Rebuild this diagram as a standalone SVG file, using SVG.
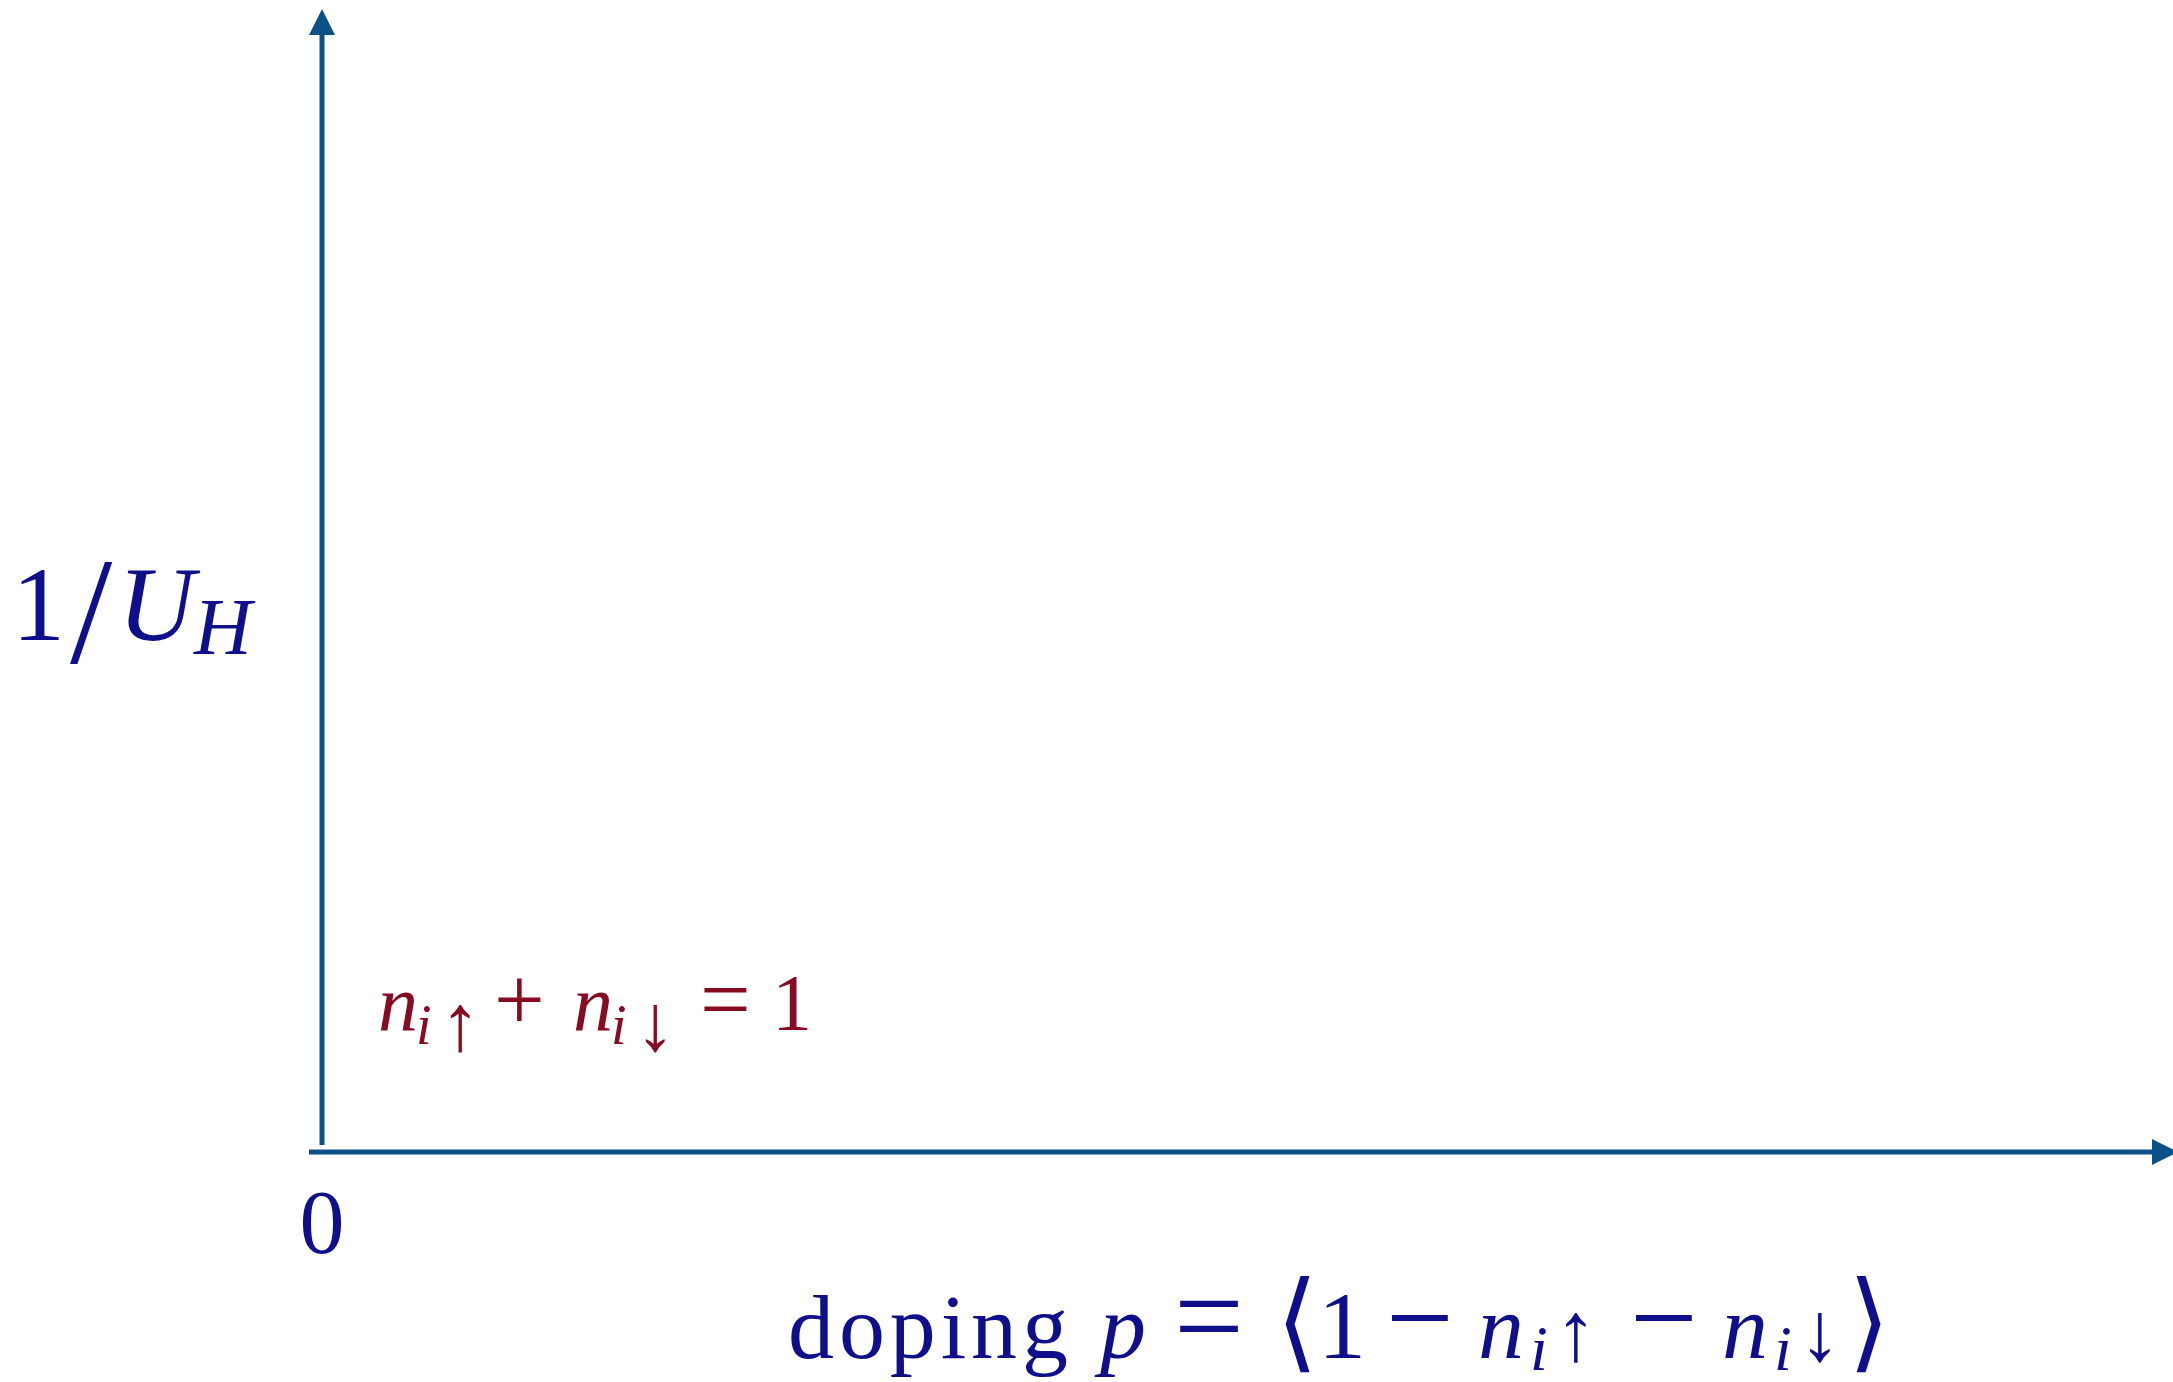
<svg xmlns="http://www.w3.org/2000/svg" width="2173" height="1382" viewBox="0 0 2173 1382">
<style>
.axis{stroke:#0b5086;stroke-width:5;fill:none}
.t{font-family:"Liberation Serif","DejaVu Serif",serif;fill:#0f0f8c}
.r{font-family:"Liberation Serif","DejaVu Serif",serif;fill:#870b21}
.it{font-style:italic}
</style>
<defs>
<marker id="ah" markerUnits="userSpaceOnUse" markerWidth="26" markerHeight="26" refX="0" refY="13" orient="auto" viewBox="0 0 26 26">
<path d="M0,0 L26,13 L0,26 z" fill="#0b5086"/>
</marker>
</defs>
<rect width="2173" height="1382" fill="#fff"/>
<g id="axes">
<line class="axis" x1="322" y1="1145" x2="322" y2="35" marker-end="url(#ah)"/>
<line class="axis" x1="309" y1="1152" x2="2152" y2="1152" marker-end="url(#ah)"/>
</g>
<g id="ylabel">
<text class="t" font-size="106" y="640"><tspan x="12">1</tspan><tspan x="70" y="663" font-size="152">/</tspan><tspan x="118" y="640" class="it">U</tspan><tspan x="194" y="654" font-size="80" class="it">H</tspan></text>
</g>
<g id="origin">
<text class="t" font-size="90" x="322" y="1253" text-anchor="middle">0</text>
</g>
<g id="constraint">
<text class="r" font-size="80" y="1030"><tspan x="378" class="it">n</tspan><tspan x="416" y="1044" font-size="56" class="it">i</tspan><tspan x="440" y="1050" font-size="80">↑</tspan><tspan x="494" y="1030" font-size="90">+</tspan><tspan x="573" class="it">n</tspan><tspan x="611" y="1044" font-size="56" class="it">i</tspan><tspan x="635" y="1050" font-size="80">↓</tspan><tspan x="700" y="1030" font-size="90">=</tspan><tspan x="772">1</tspan></text>
</g>
<g id="xlabel">
<text class="t" font-size="92" y="1358"><tspan x="788" textLength="280">doping</tspan><tspan x="1100" class="it">p</tspan><tspan x="1174" font-size="124">=</tspan><tspan x="1276" font-size="108">⟨</tspan><tspan x="1318" font-size="96">1</tspan><tspan x="1386" font-size="120">−</tspan><tspan x="1478" class="it">n</tspan><tspan x="1530" y="1370" font-size="64" class="it">i</tspan><tspan x="1555" y="1360" font-size="84">↑</tspan><tspan x="1630" y="1358" font-size="120">−</tspan><tspan x="1722" class="it">n</tspan><tspan x="1774" y="1370" font-size="64" class="it">i</tspan><tspan x="1799" y="1360" font-size="84">↓</tspan><tspan x="1848" y="1358" font-size="108">⟩</tspan></text>
</g>
</svg>
